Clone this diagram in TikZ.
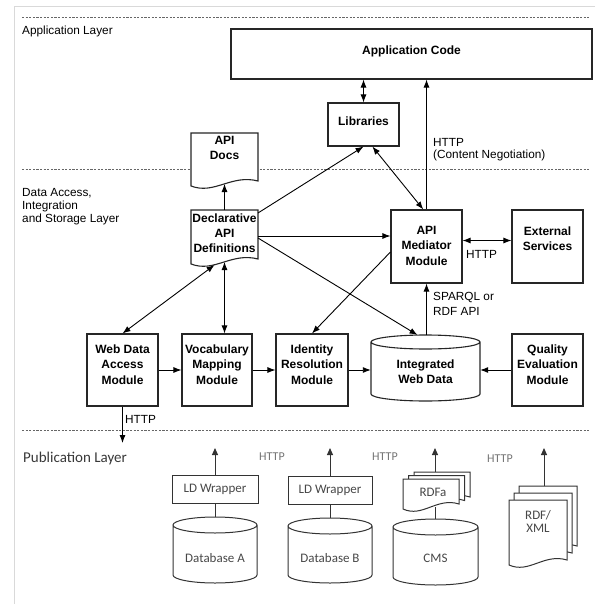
\documentclass[tikz,border=0pt]{standalone}
\usepackage{fontspec}
\setmainfont{Liberation Sans}
\newfontfamily\calib{Carlito}
\usetikzlibrary{arrows.meta,calc}
\definecolor{pubgray}{HTML}{474747}
\definecolor{publine}{HTML}{333333}
% document page outline: [style]{centre}{half width}{up}{down}
\newcommand{\docpage}[5][]{%
  \coordinate (dpc) at (#2);
  \draw[#1] ($(dpc)+(-#3,-#4)$) -- ($(dpc)+(#3,-#4)$) -- ($(dpc)+(#3,#5-9)$)
    .. controls ($(dpc)+(0.2*#3,#5-16)$) and ($(dpc)+(-0.3*#3,#5+5)$) .. ($(dpc)+(-#3,#5-4)$) -- cycle;}
% cylinder outline: [style]{centre}{half width}{up}{down}{ry}
\newcommand{\cylshape}[6][]{%
  \coordinate (cyc) at (#2);
  \draw[#1] ($(cyc)+(-#3,-#4+#6)$) -- ($(cyc)+(-#3,#5-#6)$)
    arc[start angle=180,end angle=360,x radius=#3pt,y radius=#6pt]
    -- ($(cyc)+(#3,-#4+#6)$)
    arc[start angle=0,end angle=360,x radius=#3pt,y radius=#6pt];}
\begin{document}
\begin{tikzpicture}[x=1pt,y=-1pt,
  lbl/.style={font=\fontsize{11.8}{13}\selectfont, inner sep=0pt},
  bold/.style={font=\fontsize{12}{15}\selectfont\bfseries, align=center, inner sep=0pt},
  box/.style={bold, draw=black!85, line width=1.1pt},
  module/.style={box, font=\fontsize{12}{15.5}\selectfont\bfseries, minimum height=72pt, text depth=11pt},
  docline/.style={draw=black!85, line width=1.1pt, fill=white},
  cylline/.style={draw=black!85, line width=1.1pt},
  arr/.style={line width=0.9pt, -{Latex[length=8pt,width=6pt]}},
  darr/.style={line width=0.9pt, {Latex[length=8pt,width=6pt]}-{Latex[length=8pt,width=6pt]}},
  layer/.style={dash pattern=on 2.2pt off 1.4pt, draw=black!60, line width=0.8pt},
  pubtext/.style={font=\calib\fontsize{13}{13}\selectfont, text=pubgray, inner sep=0pt, align=center},
  pubbox/.style={pubtext, draw=publine, line width=1pt},
  publn/.style={draw=publine, line width=1pt},
  pubdoc/.style={draw=publine, line width=1pt, fill=white},
  parr/.style={draw=publine, line width=1pt, -{Triangle[length=7pt,width=6pt]}},
  httplbl/.style={font=\calib\fontsize{12}{12}\selectfont, text=black!55, inner sep=0pt}]
\useasboundingbox (0,0) rectangle (595,604);
% frame and layer separators
\draw[black!15, line width=1pt] (595,7) -- (14,7) -- (14,604);
\draw[layer] (22,17) -- (590,17);
\draw[layer] (22,169) -- (590,169);
\draw[layer] (22,430) -- (590,430);
% layer labels
\node[lbl, anchor=west] (l1) at (22,31) {Application Layer};
\node[lbl, anchor=north west, align=left] (l2) at (22,188) {Data Access,\\Integration\\and Storage Layer};
\node[font=\calib\fontsize{15}{15}\selectfont, text=black!78, inner sep=0pt, anchor=west] (l3) at (23,458) {Publication Layer};
% application layer
\node[box, minimum width=361pt, minimum height=50pt, text depth=8.4pt] (app) at (411.5,54) {Application Code};
\node[box, minimum width=71pt, minimum height=43pt, text depth=7pt] (libs) at (363.5,124.5) {Libraries};
% documents
\coordinate (c-apidocs) at (224.5,148);
\docpage[docline]{c-apidocs}{33.5}{15}{42}
\node[bold] (apidocs) at (c-apidocs) {API\\Docs};
\coordinate (c-decl) at (224.5,233);
\docpage[docline]{c-decl}{33.5}{23}{35}
\node[bold] (decl) at (c-decl) {Declarative\\API\\Definitions};
\coordinate (apidocs-s) at ($(c-apidocs)+(0,36)$);
\coordinate (decl-n) at ($(c-decl)+(0,-23)$);
\coordinate (decl-s) at ($(c-decl)+(0,29)$);
\coordinate (decl-sl) at ($(c-decl)+(-10,32)$);
\coordinate (decl-e) at ($(c-decl)+(33.5,3)$);
\coordinate (decl-e2) at ($(c-decl)+(33.5,5)$);
\coordinate (decl-ne) at ($(c-decl)+(33.5,-20)$);
% data access layer
\node[module, minimum width=71pt, minimum height=73pt, text depth=2pt] (med) at (426.5,246.5) {API\\Mediator\\Module};
\node[module, minimum width=71pt, minimum height=73pt, text depth=16pt] (ext) at (547.5,246.5) {External\\Services};
\node[module, minimum width=71pt] (wda) at (122.5,370) {Web Data\\Access\\Module};
\node[module, minimum width=70pt] (voc) at (217,370) {Vocabulary\\Mapping\\Module};
\node[module, minimum width=72pt] (idr) at (312,370) {Identity\\Resolution\\Module};
\node[module, minimum width=71pt] (qem) at (547.5,370) {Quality\\Evaluation\\Module};
\node[bold, minimum width=109pt] (iwd) at (425.5,372) {Integrated\\Web Data};
\cylshape[cylline]{iwd}{54.5}{37}{29}{7}
\coordinate (iwd-top) at ($(iwd)+(1,-37)$);
\coordinate (iwd-topl) at ($(iwd)+(-8,-37)$);
\coordinate (wdaout) at (122.5,443);
% connectors
\draw[darr] (libs.north) -- (libs.north |- app.south);
\draw[arr] (med.north) -- (med.north |- app.south);
\draw[darr] (libs.-68) -- (med.95);
\draw[arr] (decl-ne) -- (libs.south);
\draw[arr] (decl-n) -- (apidocs-s);
\draw[arr] (decl-e) -- (decl-e -| med.west);
\draw[arr] (decl-e2) -- (iwd-topl);
\draw[darr] ([yshift=6pt]med.east) -- ([yshift=6pt]ext.west);
\draw[arr] (iwd-top) -- (iwd-top |- med.south);
\draw[arr] ([yshift=-5.5pt]med.west) -- (idr.north);
\draw[darr] (decl-sl) -- (wda.north);
\draw[darr] (decl-s) -- (decl-s |- voc.north);
\draw[arr] (wda.east) -- (voc.west);
\draw[arr] (voc.east) -- (idr.west);
\draw[arr] (idr.east) -- (idr.east -| iwd.west);
\draw[arr] (qem.west) -- (qem.west -| iwd.east);
\draw[arr] (wda.south) -- (wdaout);
% connector labels
\node[lbl, anchor=north west, align=left, font=\fontsize{11.8}{12.5}\selectfont] (httpA) at (433,138) {HTTP\\(Content Negotiation)};
\node[lbl, anchor=west] (httpE) at (466,254) {HTTP};
\node[lbl, anchor=north west, align=left, font=\fontsize{11.8}{15}\selectfont] (sparql) at (433,292) {SPARQL or\\RDF API};
\node[lbl, anchor=west] (httpW) at (125,419) {HTTP};
% publication layer
\node[pubbox, minimum width=86pt, minimum height=28pt] (ldA) at (215,489) {LD Wrapper};
\node[pubbox, minimum width=84pt, minimum height=28pt] (ldB) at (330,490) {LD Wrapper};
\node[pubtext] (dbA) at (215,558) {Database A};
\cylshape[publn]{dbA}{42}{41}{25}{8}
\node[pubtext] (dbB) at (330,558) {Database B};
\cylshape[publn]{dbB}{42}{40}{25}{8}
\node[pubtext] (cms) at (435.5,558) {CMS};
\cylshape[publn]{cms}{42.5}{39}{27}{8}
\coordinate (dbA-top) at ($(dbA)+(0,-41)$);
\coordinate (dbB-top) at ($(dbB)+(0,-40)$);
\coordinate (cms-top) at ($(cms)+(0,-39)$);
\coordinate (c-rdfa) at (431,492);
\docpage[pubdoc]{$(c-rdfa)+(11,-7)$}{28}{13}{21}
\docpage[pubdoc]{$(c-rdfa)+(5.5,-3.5)$}{28}{13}{21}
\docpage[pubdoc]{c-rdfa}{28}{13}{21}
\node[pubtext] (rdfa) at (433,492) {RDFa};
\coordinate (c-rdfx) at (538,521.5);
\docpage[pubdoc]{$(c-rdfx)+(10,-14)$}{29}{21.5}{47.5}
\docpage[pubdoc]{$(c-rdfx)+(5,-7)$}{29}{21.5}{47.5}
\docpage[pubdoc]{c-rdfx}{29}{21.5}{47.5}
\node[pubtext] (rdfx) at (c-rdfx) {RDF/\\XML};
\coordinate (rdfa-top) at ($(c-rdfa)+(4,-20)$);
\coordinate (rdfa-s) at ($(c-rdfa)+(4,15)$);
\coordinate (rdfx-top) at ($(c-rdfx)+(6,-35.5)$);
\coordinate (ldA-up) at (215,448);
\coordinate (ldB-up) at (330,448);
\draw[parr] (ldA.north) -- (ldA-up);
\draw[parr] (ldB.north) -- (ldB-up);
\draw[parr] (rdfa-top) -- (rdfa-top |- ldA-up);
\draw[parr] (rdfx-top) -- (rdfx-top |- ldA-up);
\draw[publn] (ldA.south) -- (dbA-top);
\draw[publn] (ldB.south) -- (dbB-top);
\draw[publn] (rdfa-s) -- (rdfa-s |- cms-top);
\node[httplbl] (h1) at (272,457) {HTTP};
\node[httplbl] (h2) at (385,457) {HTTP};
\node[httplbl] (h3) at (500,459) {HTTP};
\end{tikzpicture}
\end{document}
